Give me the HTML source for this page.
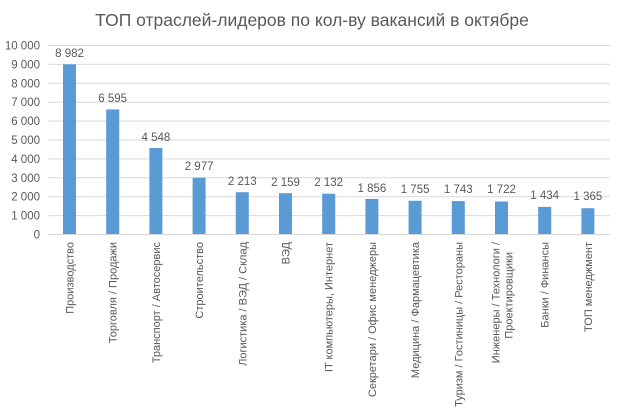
<!DOCTYPE html><html><head><meta charset="utf-8"><style>body{margin:0;background:#fff}svg{display:block}text{font-family:"Liberation Sans",sans-serif;fill:#595959}</style></head><body>
<svg width="624" height="414" xmlns="http://www.w3.org/2000/svg">
<text x="312" y="26" font-size="17.5" text-anchor="middle">ТОП отраслей-лидеров по кол-ву вакансий в октябре</text>
<g stroke="#d9d9d9" stroke-width="1">
<line x1="48" x2="610" y1="45.5" y2="45.5"/><line x1="48" x2="610" y1="64.4" y2="64.4"/><line x1="48" x2="610" y1="83.3" y2="83.3"/><line x1="48" x2="610" y1="102.2" y2="102.2"/><line x1="48" x2="610" y1="121.1" y2="121.1"/><line x1="48" x2="610" y1="140" y2="140"/><line x1="48" x2="610" y1="158.9" y2="158.9"/><line x1="48" x2="610" y1="177.8" y2="177.8"/><line x1="48" x2="610" y1="196.7" y2="196.7"/><line x1="48" x2="610" y1="215.6" y2="215.6"/><line x1="48" x2="610" y1="234.5" y2="234.5"/>
</g>
<g font-size="11.5" text-anchor="end">
<text x="40" y="49.5">10 000</text><text x="40" y="68.4">9 000</text><text x="40" y="87.3">8 000</text><text x="40" y="106.2">7 000</text><text x="40" y="125.1">6 000</text><text x="40" y="144">5 000</text><text x="40" y="162.9">4 000</text><text x="40" y="181.8">3 000</text><text x="40" y="200.7">2 000</text><text x="40" y="219.6">1 000</text><text x="40" y="238.5">0</text>
</g>
<g fill="#5b9bd5">
<rect x="63" y="64.3" width="13" height="169.7"/>
<rect x="106.2" y="109.4" width="13" height="124.6"/>
<rect x="149.4" y="148" width="13" height="86"/>
<rect x="192.6" y="177.7" width="13" height="56.3"/>
<rect x="235.8" y="192.2" width="13" height="41.8"/>
<rect x="279" y="193.2" width="13" height="40.8"/>
<rect x="322.2" y="193.7" width="13" height="40.3"/>
<rect x="365.4" y="198.9" width="13" height="35.1"/>
<rect x="408.6" y="200.8" width="13" height="33.2"/>
<rect x="451.8" y="201.1" width="13" height="32.9"/>
<rect x="495" y="201.5" width="13" height="32.5"/>
<rect x="538.2" y="206.9" width="13" height="27.1"/>
<rect x="581.4" y="208.2" width="13" height="25.8"/>
</g>
<g font-size="11.5" text-anchor="middle" fill="#404040">
<text x="69.5" y="57">8 982</text><text x="112.7" y="102">6 595</text><text x="155.9" y="141">4 548</text><text x="199.1" y="170">2 977</text><text x="242.3" y="185">2 213</text><text x="285.5" y="186">2 159</text><text x="328.7" y="186">2 132</text><text x="371.9" y="192">1 856</text><text x="415.1" y="193">1 755</text><text x="458.3" y="193">1 743</text><text x="501.5" y="193">1 722</text><text x="544.7" y="199">1 434</text><text x="587.9" y="200">1 365</text>
</g>
<g font-size="11" text-anchor="end">
<text transform="translate(73.5,242) rotate(-90)">Производство</text>
<text transform="translate(116.7,242) rotate(-90)">Торговля / Продажи</text>
<text transform="translate(159.9,242) rotate(-90)">Транспорт / Автосервис</text>
<text transform="translate(203.1,242) rotate(-90)">Строительство</text>
<text transform="translate(246.3,242) rotate(-90)">Логистика / ВЭД / Склад</text>
<text transform="translate(289.5,242) rotate(-90)">ВЭД</text>
<text transform="translate(332.7,242) rotate(-90)">IT компьютеры, Интернет</text>
<text transform="translate(375.9,242) rotate(-90)">Секретари / Офис менеджеры</text>
<text transform="translate(419.1,242) rotate(-90)">Медицина / Фармацевтика</text>
<text transform="translate(462.3,242) rotate(-90)">Туризм / Гостиницы / Рестораны</text>
<text transform="translate(499.5,242) rotate(-90)">Инженеры / Технологи /</text>
<text transform="translate(512.5,252) rotate(-90)">Проектировщики</text>
<text transform="translate(548.7,242) rotate(-90)">Банки / Финансы</text>
<text transform="translate(591.9,242) rotate(-90)">ТОП менеджмент</text>
</g>
</svg>
</body></html>
